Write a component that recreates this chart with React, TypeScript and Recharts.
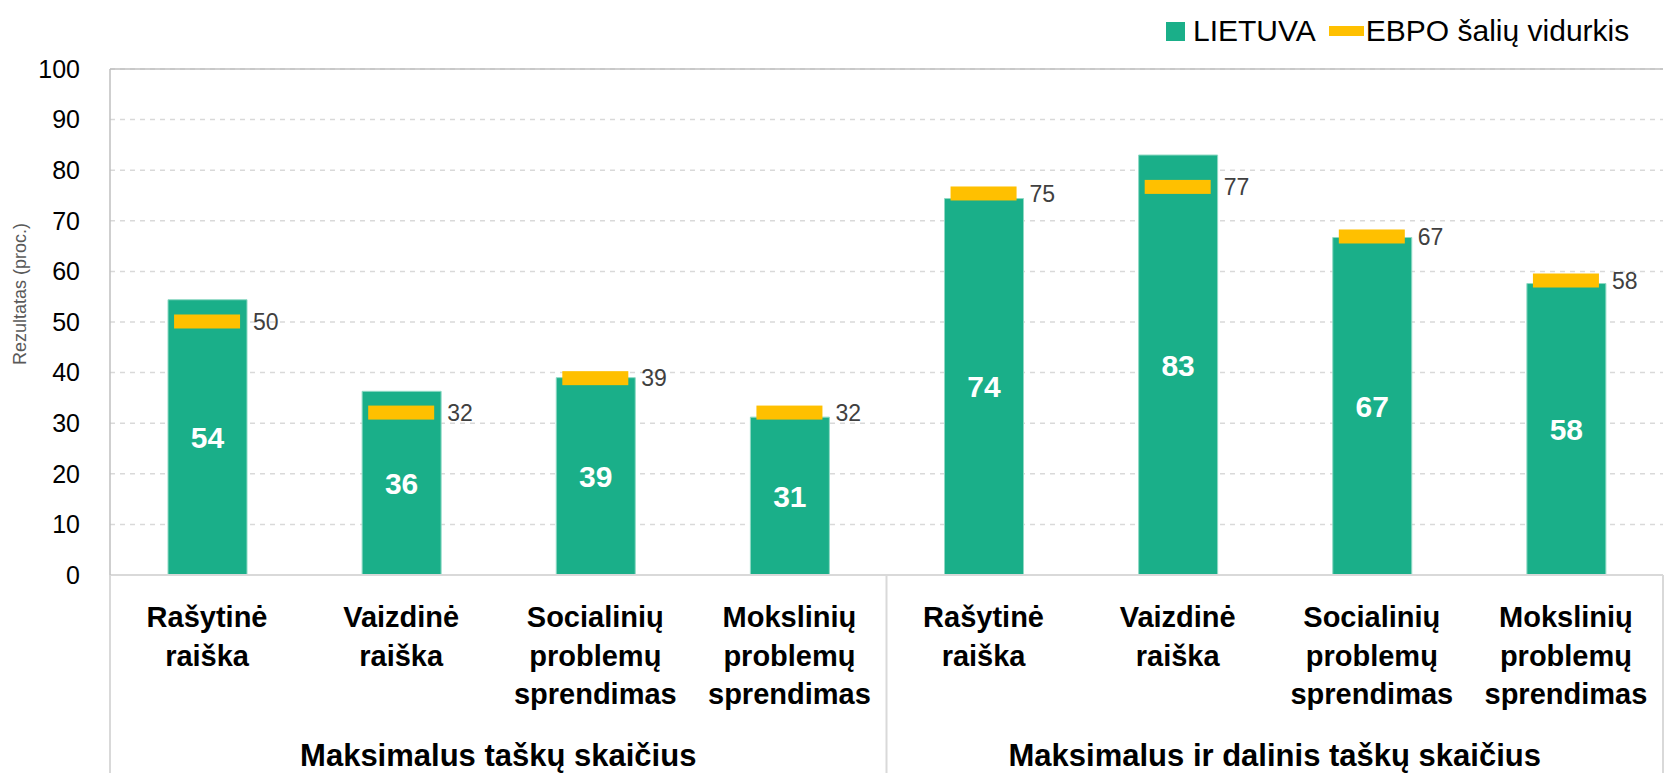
import {
  ComposedChart,
  Bar,
  Line,
  XAxis,
  YAxis,
  CartesianGrid,
  LabelList,
  ReferenceLine,
} from "recharts";

const categories = [
  "Rašytinė\nraiška",
  "Vaizdinė\nraiška",
  "Socialinių\nproblemų\nsprendimas",
  "Mokslinių\nproblemų\nsprendimas",
  "Rašytinė\nraiška",
  "Vaizdinė\nraiška",
  "Socialinių\nproblemų\nsprendimas",
  "Mokslinių\nproblemų\nsprendimas",
];
const lietuva = [54.4, 36.3, 39.0, 31.2, 74.4, 83.0, 66.7, 57.6];
const ebpo = [50.1, 32.1, 38.9, 32.1, 75.4, 76.7, 66.9, 58.2];
const groups = [
  { name: "Maksimalus taškų skaičius", start: 0, end: 3 },
  { name: "Maksimalus ir dalinis taškų skaičius", start: 4, end: 7 },
];
const yTicks = [0, 10, 20, 30, 40, 50, 60, 70, 80, 90, 100];

const W = 1665;
const H = 773;
const LEFT = 110;
const RIGHT_M = 2;
const BAND = (W - LEFT - RIGHT_M) / categories.length;

const GREEN = "#1AAF89";
const ORANGE = "#FFC000";
const FONT = "'Liberation Sans', Arial, sans-serif";

const data = categories.map((c, i) => ({
  id: "c" + i,
  label: c,
  lt: lietuva[i],
  ebpo: ebpo[i],
}));

// multi-line category labels, plus group captions and separators
const CategoryTick = (props: any) => {
  const { x, y, index } = props;
  const lines = categories[index].split("\n");
  const parts: any[] = [];
  lines.forEach((ln, i) => {
    parts.push(
      <text
        key={"l" + i}
        x={x}
        y={y + 52 + i * 38.5}
        textAnchor="middle"
        fontSize={29}
        fontWeight="bold"
        fill="#000"
        fontFamily={FONT}
      >
        {ln}
      </text>
    );
  });
  groups.forEach((g, gi) => {
    if (index === g.start) {
      const cx = x + ((g.end - g.start) * BAND) / 2;
      parts.push(
        <line key={"s" + gi} x1={x - BAND / 2} x2={x - BAND / 2} y1={y} y2={y + 200} stroke="#D9D9D9" strokeWidth={2} />
      );
      parts.push(
        <text
          key={"g" + gi}
          x={cx}
          y={y + 191}
          textAnchor="middle"
          fontSize={31}
          fontWeight="bold"
          fill="#000"
          fontFamily={FONT}
        >
          {g.name}
        </text>
      );
    }
    if (index === g.end && gi === groups.length - 1) {
      parts.push(
        <line key="e" x1={x + BAND / 2} x2={x + BAND / 2} y1={y} y2={y + 200} stroke="#D9D9D9" strokeWidth={2} />
      );
    }
  });
  return <g>{parts}</g>;
};

// EBPO average marker
const MarkerDot = (props: any) => {
  const { cx, cy } = props;
  if (cx == null || cy == null) return null;
  return <rect x={cx - 33} y={cy - 7} width={66} height={14} fill={ORANGE} />;
};

const EbpoLabel = (props: any) => {
  const { x, y, value } = props;
  return (
    <text x={x + 46} y={y} dy="0.36em" fontSize={23} fill="#404040" fontFamily={FONT}>
      {Math.round(value)}
    </text>
  );
};

const YTitle = (props: any) => {
  const { viewBox } = props;
  const cx = 20;
  const cy = viewBox.y + viewBox.height / 2 - 28;
  return (
    <text
      x={cx}
      y={cy}
      transform={`rotate(-90, ${cx}, ${cy})`}
      textAnchor="middle"
      dy="0.35em"
      fontSize={18}
      fill="#595959"
      fontFamily={FONT}
    >
      Rezultatas (proc.)
    </text>
  );
};

export default function App() {
  return (
    <div style={{ position: "relative", width: W, height: H, fontFamily: FONT, background: "#fff" }}>
      <style>{"body{margin:0}"}</style>
      <div
        style={{
          position: "absolute",
          top: 12,
          left: 1166,
          height: 38,
          display: "flex",
          alignItems: "center",
          fontSize: 30,
          color: "#000",
          whiteSpace: "nowrap",
          zIndex: 2,
        }}
      >
        <span style={{ display: "inline-block", width: 19, height: 19, background: GREEN, marginRight: 8 }} />
        <span>LIETUVA</span>
        <span style={{ display: "inline-block", width: 35, height: 10, background: ORANGE, marginLeft: 13, marginRight: 2 }} />
        <span>EBPO šalių vidurkis</span>
      </div>
      <ComposedChart
        width={W}
        height={H}
        data={data}
        margin={{ top: 69, right: RIGHT_M, bottom: 0, left: 0 }}
      >
        <CartesianGrid
          vertical={false}
          stroke="#D9D9D9"
          strokeDasharray="5 5"
          strokeWidth={1.5}
        />
        <XAxis
          dataKey="id"
          height={198}
          interval={0}
          tickLine={false}
          tickSize={0}
          tickMargin={0}
          axisLine={{ stroke: "#D9D9D9", strokeWidth: 2 }}
          tick={<CategoryTick />}
        />
        <YAxis
          width={LEFT}
          domain={[0, 100]}
          ticks={yTicks}
          interval={0}
          tickLine={false}
          tickSize={0}
          tickMargin={30}
          axisLine={{ stroke: "#BFBFBF", strokeWidth: 1.5 }}
          tick={{ fontSize: 25, fill: "#000", fontFamily: FONT }}
          label={<YTitle />}
        />
        <YAxis
          yAxisId="right"
          orientation="right"
          width={0}
          domain={[0, 100]}
          tick={false}
          tickLine={false}
          axisLine={{ stroke: "#BFBFBF", strokeWidth: 1.5 }}
        />
        <ReferenceLine y={100} stroke="#BFBFBF" strokeWidth={1.5} />
        <Bar dataKey="lt" name="LIETUVA" fill={GREEN} barSize={79} stroke="#8FD9C4" strokeWidth={1} isAnimationActive={false}>
          <LabelList
            dataKey="lt"
            position="center"
            formatter={(v: any) => Math.round(v)}
            fill="#fff"
            fontSize={30}
            fontWeight="bold"
            fontFamily={FONT}
          />
        </Bar>
        <Line
          dataKey="ebpo"
          name="EBPO šalių vidurkis"
          stroke="none"
          dot={<MarkerDot />}
          activeDot={false}
          isAnimationActive={false}
        >
          <LabelList dataKey="ebpo" content={<EbpoLabel />} />
        </Line>
      </ComposedChart>
    </div>
  );
}
